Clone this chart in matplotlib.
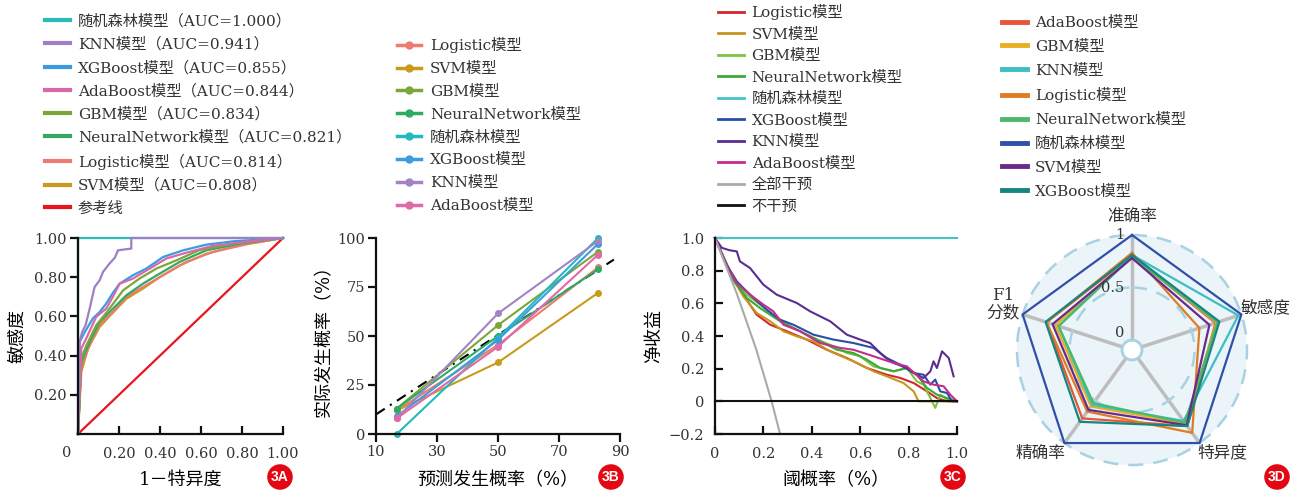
import numpy as np
import matplotlib.pyplot as plt
from matplotlib.lines import Line2D

plt.rcParams['font.family'] = ['DejaVu Serif', 'Noto Sans CJK SC']
plt.rcParams['text.color'] = '#333333'
plt.rcParams['axes.unicode_minus'] = True

W, H = 1298, 493

# ---- 3A: ROC curves ----
rf_fpr = [0, 0, 1.0]
rf_tpr = [0, 1.0, 1.0]
knn_fpr = [0, 0.008, 0.02, 0.037, 0.057, 0.07, 0.081, 0.106, 0.122, 0.154, 0.18, 0.195, 0.215, 0.26, 0.26, 1.0]
knn_tpr = [0, 0.47, 0.52, 0.555, 0.64, 0.70, 0.75, 0.785, 0.827, 0.87, 0.90, 0.937, 0.94, 0.946, 1.0, 1.0]
xgb_fpr = [0, 0.008, 0.033, 0.073, 0.106, 0.138, 0.17, 0.203, 0.268, 0.333, 0.415, 0.512, 0.626, 0.756, 1.0]
xgb_tpr = [0, 0.47, 0.52, 0.59, 0.623, 0.666, 0.72, 0.767, 0.81, 0.844, 0.903, 0.937, 0.966, 0.983, 1.0]
ada_fpr = [0, 0.016, 0.04, 0.089, 0.138, 0.17, 0.203, 0.268, 0.35, 0.43, 0.528, 0.659, 0.837, 1.0]
ada_tpr = [0, 0.436, 0.487, 0.598, 0.64, 0.70, 0.767, 0.793, 0.844, 0.895, 0.925, 0.96, 0.983, 1.0]
gbm_fpr = [0, 0.016, 0.04, 0.089, 0.154, 0.22, 0.3, 0.382, 0.48, 0.59, 0.756, 1.0]
gbm_tpr = [0, 0.385, 0.45, 0.555, 0.64, 0.733, 0.793, 0.844, 0.886, 0.937, 0.971, 1.0]
nn_fpr = [0, 0.016, 0.057, 0.106, 0.171, 0.236, 0.317, 0.398, 0.496, 0.626, 0.789, 1.0]
nn_tpr = [0, 0.368, 0.47, 0.572, 0.64, 0.708, 0.767, 0.818, 0.878, 0.937, 0.971, 1.0]
log_fpr = [0, 0.016, 0.057, 0.106, 0.171, 0.236, 0.317, 0.415, 0.528, 0.659, 0.837, 1.0]
log_tpr = [0, 0.35, 0.453, 0.56, 0.623, 0.70, 0.75, 0.81, 0.878, 0.929, 0.971, 1.0]
svm_fpr = [0, 0.016, 0.049, 0.106, 0.171, 0.236, 0.317, 0.398, 0.496, 0.626, 0.789, 1.0]
svm_tpr = [0, 0.317, 0.436, 0.547, 0.62, 0.69, 0.742, 0.80, 0.86, 0.92, 0.963, 1.0]
roc_labels = ['随机森林模型（AUC=1.000）', 'KNN模型（AUC=0.941）', 'XGBoost模型（AUC=0.855）',
              'AdaBoost模型（AUC=0.844）', 'GBM模型（AUC=0.834）', 'NeuralNetwork模型（AUC=0.821）',
              'Logistic模型（AUC=0.814）', 'SVM模型（AUC=0.808）', '参考线']

# ---- 3B: calibration ----
cal_pred = [16.8, 50.0, 82.8]
cal_log = [12, 45.5, 85]
cal_svm = [12, 36.5, 72]
cal_gbm = [13, 55.5, 93]
cal_nn = [13, 50, 84]
cal_rf = [0, 49, 100]
cal_xgb = [9, 48, 97]
cal_knn = [8, 61.5, 98.5]
cal_ada = [8, 44.5, 91.5]
cal_ideal_x = [10, 88]
cal_ideal_y = [10, 89]

# ---- 3C: decision curves ----
dca_log_x = [0, 0.062, 0.117, 0.172, 0.228, 0.297, 0.379, 0.462, 0.545, 0.628, 0.71, 0.766, 0.821, 0.876, 0.917, 0.959, 1.0]
dca_log_y = [1.0, 0.796, 0.653, 0.531, 0.469, 0.429, 0.378, 0.316, 0.265, 0.204, 0.163, 0.143, 0.112, 0.061, 0.02, 0.0, 0.0]
dca_svm_x = [0, 0.062, 0.117, 0.172, 0.228, 0.283, 0.338, 0.407, 0.476, 0.572, 0.655, 0.71, 0.779, 0.821, 0.841, 1.0]
dca_svm_y = [1.0, 0.78, 0.643, 0.541, 0.49, 0.429, 0.398, 0.367, 0.306, 0.245, 0.184, 0.153, 0.112, 0.061, 0.0, 0.0]
dca_gbm_x = [0, 0.076, 0.131, 0.186, 0.255, 0.324, 0.407, 0.49, 0.545, 0.6, 0.655, 0.738, 0.793, 0.834, 0.862, 0.89, 0.91, 0.931, 0.959, 1.0]
dca_gbm_y = [1.0, 0.75, 0.653, 0.592, 0.51, 0.449, 0.388, 0.337, 0.296, 0.276, 0.214, 0.184, 0.204, 0.122, 0.102, 0.02, -0.04, 0.041, 0.01, 0.0]
dca_nn_x = [0, 0.076, 0.131, 0.186, 0.269, 0.352, 0.421, 0.503, 0.572, 0.628, 0.683, 0.738, 0.793, 0.834, 0.876, 0.917, 0.959, 1.0]
dca_nn_y = [1.0, 0.74, 0.633, 0.571, 0.49, 0.429, 0.378, 0.316, 0.296, 0.255, 0.204, 0.184, 0.204, 0.163, 0.082, 0.041, 0.02, 0.0]
dca_rf_x = [0, 1.0]
dca_rf_y = [1.0, 1.0]
dca_xgb_x = [0, 0.048, 0.09, 0.117, 0.159, 0.214, 0.269, 0.324, 0.407, 0.49, 0.572, 0.655, 0.71, 0.766, 0.821, 0.862, 0.89, 0.91, 0.931, 0.959, 0.979, 1.0]
dca_xgb_y = [1.0, 0.837, 0.735, 0.694, 0.633, 0.561, 0.5, 0.469, 0.408, 0.378, 0.357, 0.327, 0.265, 0.224, 0.173, 0.163, 0.102, 0.133, 0.061, 0.051, 0.0, 0.0]
dca_knn_x = [0, 0.028, 0.06, 0.09, 0.103, 0.145, 0.2, 0.255, 0.338, 0.393, 0.476, 0.545, 0.6, 0.641, 0.697, 0.738, 0.793, 0.834, 0.862, 0.89, 0.903, 0.917, 0.938, 0.966, 0.986]
dca_knn_y = [1.0, 0.94, 0.925, 0.918, 0.857, 0.816, 0.714, 0.653, 0.602, 0.551, 0.49, 0.408, 0.378, 0.357, 0.276, 0.235, 0.204, 0.163, 0.143, 0.184, 0.245, 0.204, 0.306, 0.265, 0.153]
dca_ada_x = [0, 0.048, 0.09, 0.145, 0.2, 0.241, 0.283, 0.352, 0.434, 0.517, 0.572, 0.655, 0.738, 0.793, 0.862, 0.903, 0.945, 0.972, 1.0]
dca_ada_y = [1.0, 0.83, 0.724, 0.653, 0.592, 0.551, 0.469, 0.429, 0.357, 0.327, 0.316, 0.276, 0.235, 0.214, 0.122, 0.102, 0.092, 0.041, 0.0]
dca_all_x = [0, 0.09, 0.17, 0.234, 0.269]
dca_all_y = [1.0, 0.66, 0.32, 0.0, -0.2]
dca_none_x = [0, 1.0]
dca_none_y = [0, 0]

# ---- 3D: radar ----
radar_axes = ['准确率', '敏感度', '特异度', '精确率', 'F1\n分数']
radar_ada = [0.80, 0.74, 0.80, 0.71, 0.76]
radar_gbm = [0.80, 0.75, 0.77, 0.57, 0.67]
radar_knn = [0.81, 0.97, 0.74, 0.55, 0.64]
radar_log = [0.83, 0.58, 0.88, 0.63, 0.76]
radar_nn = [0.79, 0.76, 0.76, 0.53, 0.64]
radar_rf = [1.0, 1.0, 1.0, 1.0, 1.0]
radar_svm = [0.78, 0.68, 0.79, 0.61, 0.70]
radar_xgb = [0.81, 0.78, 0.80, 0.75, 0.77]


def px(x0, y0, x1, y1):
    return [x0 / W, 1 - y1 / H, (x1 - x0) / W, (y1 - y0) / H]


def style_axis(ax):
    for s in ['top', 'right']:
        ax.spines[s].set_visible(False)
    for s in ['left', 'bottom']:
        ax.spines[s].set_linewidth(1.6)
        ax.spines[s].set_color('#111111')
    ax.tick_params(labelsize=10.5, width=1.6, length=6, color='#111111', labelcolor='#333333')


def badge(x, y, txt):
    fig.text(x / W, 1 - y / H, txt, ha='center', va='center', color='white', fontsize=10,
             fontweight='bold', family='Liberation Sans',
             bbox=dict(boxstyle='circle,pad=0.28', fc='#E30613', ec='none'))


fig = plt.figure(figsize=(W / 100, H / 100), dpi=100)

# ---------------- 3A ----------------
axA = fig.add_axes(px(78, 238, 283, 434))
style_axis(axA)
roc_series = [
    (svm_fpr, svm_tpr, '#C99A1C'),
    (log_fpr, log_tpr, '#EE7B72'),
    (nn_fpr, nn_tpr, '#34A862'),
    (gbm_fpr, gbm_tpr, '#7DA63A'),
    (xgb_fpr, xgb_tpr, '#3A9BE0'),
    (ada_fpr, ada_tpr, '#D968AA'),
    (rf_fpr, rf_tpr, '#2BBAB6'),
    (knn_fpr, knn_tpr, '#A07FC4'),
]
axA.plot([0, 1], [0, 1], color='#E8141E', lw=1.6, clip_on=False)
for fx, ty, c in roc_series:
    axA.plot(fx, ty, color=c, lw=1.6, clip_on=False)
axA.set_xlim(0, 1)
axA.set_ylim(0, 1)
axA.set_xticks([0.2, 0.4, 0.6, 0.8, 1.0], ['0.20', '0.40', '0.60', '0.80', '1.00'])
axA.set_yticks([0.2, 0.4, 0.6, 0.8, 1.0], ['0.20', '0.40', '0.60', '0.80', '1.00'])
axA.tick_params(axis='x', direction='in', pad=9)
axA.tick_params(axis='y', direction='out', pad=2)
axA.annotate('0', xy=(0, 0), xytext=(-11, -19), textcoords='offset pixels',
             ha='center', va='center', fontsize=10.5, color='#333333')
axA.set_ylabel('敏感度', fontsize=13)
axA.yaxis.set_label_coords(-0.25, 0.5)
axA.set_xlabel('1－特异度', fontsize=13)
axA.xaxis.set_label_coords(0.5, -0.19)

roc_colors = ['#2BBAB6', '#A07FC4', '#3A9BE0', '#D968AA', '#7DA63A', '#34A862', '#EE7B72', '#C99A1C', '#E8141E']
hA = [Line2D([], [], color=c, lw=3) for c in roc_colors]
fig.legend(hA, roc_labels, loc='upper left', bbox_to_anchor=(45 / W, 1 - 14 / H), frameon=False,
           borderpad=0, borderaxespad=0, handlelength=1.65, handletextpad=0.5, labelspacing=0.57,
           fontsize=11)

# ---------------- 3B ----------------
axB = fig.add_axes(px(376, 238, 620, 434))
style_axis(axB)
cal_series = [
    ('Logistic模型', cal_log, '#EE7B72'),
    ('SVM模型', cal_svm, '#C99A1C'),
    ('GBM模型', cal_gbm, '#7DA63A'),
    ('NeuralNetwork模型', cal_nn, '#2EAA62'),
    ('随机森林模型', cal_rf, '#22BAC0'),
    ('XGBoost模型', cal_xgb, '#3A9DDE'),
    ('KNN模型', cal_knn, '#A383C6'),
    ('AdaBoost模型', cal_ada, '#E06AA8'),
]
axB.plot(cal_ideal_x, cal_ideal_y, color='black', lw=1.5, ls=(0, (5, 3, 1, 3)))
hB = []
for name, vals, c in cal_series:
    axB.plot(cal_pred, vals, color=c, lw=1.5, marker='o', ms=4, clip_on=False, label=name)
    hB.append(Line2D([], [], color=c, lw=2.5, marker='o', ms=5))
axB.set_xlim(10, 90)
axB.set_ylim(0, 100)
axB.set_xticks([10, 30, 50, 70, 90])
axB.set_yticks([0, 25, 50, 75, 100])
axB.tick_params(direction='out', pad=2)
axB.set_ylabel('实际发生概率（%）', fontsize=13)
axB.yaxis.set_label_coords(-0.175, 0.5)
axB.set_xlabel('预测发生概率（%）', fontsize=13)
axB.xaxis.set_label_coords(0.5, -0.19)
fig.legend(hB, [s[0] for s in cal_series], loc='upper left', bbox_to_anchor=(397 / W, 1 - 37 / H),
           frameon=False, borderpad=0, borderaxespad=0, handlelength=1.6, handletextpad=0.55,
           labelspacing=0.58, fontsize=11)

# ---------------- 3C ----------------
axC = fig.add_axes(px(715, 238, 957, 434))
style_axis(axC)
dca_series = [
    ('Logistic模型', dca_log_x, dca_log_y, '#D4262E'),
    ('SVM模型', dca_svm_x, dca_svm_y, '#C8961E'),
    ('GBM模型', dca_gbm_x, dca_gbm_y, '#7DC242'),
    ('NeuralNetwork模型', dca_nn_x, dca_nn_y, '#3BAA3B'),
    ('随机森林模型', dca_rf_x, dca_rf_y, '#45C3C8'),
    ('XGBoost模型', dca_xgb_x, dca_xgb_y, '#2A4EA6'),
    ('KNN模型', dca_knn_x, dca_knn_y, '#5A2D91'),
    ('AdaBoost模型', dca_ada_x, dca_ada_y, '#C42D8C'),
    ('全部干预', dca_all_x, dca_all_y, '#AAAAAA'),
    ('不干预', dca_none_x, dca_none_y, '#111111'),
]
hC = []
for name, xs, ys, c in dca_series:
    axC.plot(xs, ys, color=c, lw=1.5, clip_on=False)
    hC.append(Line2D([], [], color=c, lw=2))
axC.set_xlim(0, 1)
axC.set_ylim(-0.2, 1.0)
axC.set_xticks([0, 0.2, 0.4, 0.6, 0.8, 1.0], ['0', '0.2', '0.4', '0.6', '0.8', '1.0'])
axC.set_yticks([-0.2, 0, 0.2, 0.4, 0.6, 0.8, 1.0], ['\u22120.2', '0', '0.2', '0.4', '0.6', '0.8', '1.0'])
axC.tick_params(direction='in', length=6)
axC.tick_params(axis='x', pad=9)
axC.tick_params(axis='y', pad=8)
axC.set_ylabel('净收益', fontsize=13)
axC.yaxis.set_label_coords(-0.215, 0.5)
axC.set_xlabel('阈概率（%）', fontsize=13)
axC.xaxis.set_label_coords(0.5, -0.19)
fig.legend(hC, [s[0] for s in dca_series], loc='upper left', bbox_to_anchor=(718 / W, 1 - 4 / H),
           frameon=False, borderpad=0, borderaxespad=0, handlelength=1.7, handletextpad=0.5,
           labelspacing=0.49, fontsize=11)

# ---------------- 3D ----------------
axD = fig.add_axes(px(1017, 235, 1247, 465), projection='polar')
axD.set_theta_offset(np.pi / 2)
axD.set_theta_direction(-1)
axD.set_ylim(0, 1)
axD.set_rorigin(-0.095)
axD.set_facecolor('#EAF4F9')
axD.spines['polar'].set_visible(False)
axD.spines['inner'].set_color('#A8D2E2')
axD.spines['inner'].set_linewidth(2)
angles = np.linspace(0, 2 * np.pi, len(radar_axes), endpoint=False)
axD.set_xticks(angles)
axD.set_xticklabels([])
axD.set_yticks([0.5, 1.0])
axD.set_yticklabels([])
axD.xaxis.grid(True, color='#BDBDBD', lw=2.5)
axD.yaxis.grid(True, color='#A8D2E2', lw=1.8, ls=(0, (6, 4)))
for gl in axD.yaxis.get_gridlines():
    gl.set_clip_on(False)

radar_series = [
    ('AdaBoost模型', radar_ada, '#E8553A'),
    ('GBM模型', radar_gbm, '#E8B020'),
    ('KNN模型', radar_knn, '#3BBFC0'),
    ('Logistic模型', radar_log, '#E07B20'),
    ('NeuralNetwork模型', radar_nn, '#4DB86A'),
    ('随机森林模型', radar_rf, '#3050A8'),
    ('SVM模型', radar_svm, '#6A2A8A'),
    ('XGBoost模型', radar_xgb, '#17857F'),
]
ang_closed = np.concatenate([angles, angles[:1]])
hD = []
for name, vals, c in radar_series:
    axD.plot(ang_closed, list(vals) + [vals[0]], color=c, lw=1.6, clip_on=False)
    hD.append(Line2D([], [], color=c, lw=3.5))

label_pos = [(0, 1.17), (np.deg2rad(72.6), 1.24), (np.deg2rad(138.8), 1.21),
             (np.deg2rad(221.6), 1.22), (np.deg2rad(289.7), 1.21)]
for (th, r), lab in zip(label_pos, radar_axes):
    axD.text(th, r, lab, ha='center', va='center', fontsize=12, linespacing=1.0)
for v, lab, dy in [(1.0, '1', 0), (0.5, '0.5', 0), (0.0, '0', 7)]:
    axD.annotate(lab, xy=(0, v), xytext=(-8, dy), textcoords='offset pixels',
                 ha='right', va='center', fontsize=10.5, color='#333333')

fig.legend(hD, [s[0] for s in radar_series], loc='upper left', bbox_to_anchor=(1002 / W, 1 - 16 / H),
           frameon=False, borderpad=0, borderaxespad=0, handlelength=1.65, handletextpad=0.5,
           labelspacing=0.64, fontsize=11)

badge(280, 477, '3A')
badge(611, 477, '3B')
badge(953, 477, '3C')
badge(1277, 477, '3D')

fig.savefig('out.png', dpi=100)
